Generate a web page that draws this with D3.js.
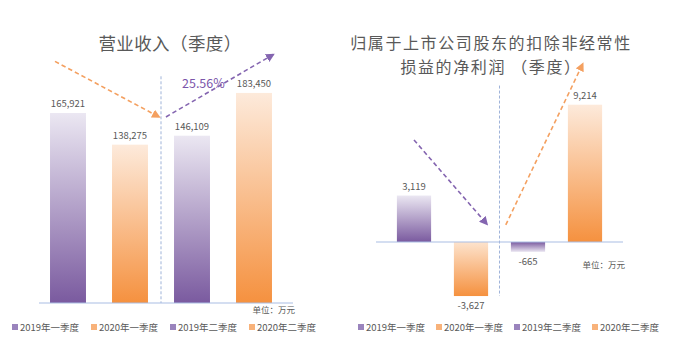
<!DOCTYPE html>
<html>
<head>
<meta charset="utf-8">
<script src="https://cdn.jsdelivr.net/npm/d3@7"></script>
<style>
  body { margin: 0; background: #fff; }
  svg text { font-family: "Noto Sans CJK SC", "Noto Sans", sans-serif; fill: #595959; }
</style>
</head>
<body>
<div id="chart"></div>
<script>
// categories shared by both panels
var quarters = ["2019年一季度", "2020年一季度", "2019年二季度", "2020年二季度"];
var groups = ["p", "o", "p", "o"];   // purple = 2019, orange = 2020

// revenue (万元)
var revenue = [165921, 138275, 146109, 183450];
// net profit after non-recurring items (万元)
var netProfit = [3119, -3627, -665, 9214];

var revenueGrowth = "25.56%";
var unitLabel = "单位：万元";

var W = 700, H = 354;

var svg = d3.select("#chart").append("svg")
    .attr("width", W)
    .attr("height", H);

var defs = svg.append("defs");

// bar gradients, light on top, strong at the bottom
function gradient(id, top, bottom) {
    var g = defs.append("linearGradient")
        .attr("id", id)
        .attr("x1", 0).attr("y1", 0).attr("x2", 0).attr("y2", 1);
    g.append("stop").attr("offset", "0%").attr("stop-color", top);
    g.append("stop").attr("offset", "100%").attr("stop-color", bottom);
}
gradient("g-p", "#ebe7f2", "#7a5a9f");
gradient("g-o", "#fdeadb", "#f5913f");
gradient("g-pn", "#7a5a9f", "#ebe7f2");
gradient("g-on", "#fde3cd", "#f5913f");

function marker(id, color) {
    defs.append("marker")
        .attr("id", id)
        .attr("viewBox", "0 0 10 10")
        .attr("refX", 8).attr("refY", 5)
        .attr("markerWidth", 5.5).attr("markerHeight", 5.5)
        .attr("orient", "auto")
        .append("path")
        .attr("d", "M0,0 L10,5 L0,10 Z")
        .attr("fill", color);
}
marker("m-o", "#f4a060");
marker("m-p", "#8465b0");

var PURPLE = "#8465b0", ORANGE = "#f4a060";
var fmt = function(d) { return d3.format(",")(d).replace("\u2212", "-"); };

/*
 * one panel: band x scale, linear y scale, bars, labels, arrows
 */
function panel(opt) {
    var g = svg.append("g");

    var x = d3.scaleBand()
        .domain(quarters)
        .range(opt.xRange)
        .paddingInner(opt.pad)
        .paddingOuter(opt.pad / 2);

    var y = d3.scaleLinear()
        .domain(opt.yDomain)
        .range(opt.yRange);

    // position in "bar steps" from the first bar's left edge
    var bx = function(t) { return x(quarters[0]) + t * x.step(); };
    var gapMid = x(quarters[1]) + x.bandwidth() + (x.step() - x.bandwidth()) / 2;

    // title, one text per line
    opt.title.forEach(function(line, i) {
        g.append("text")
            .attr("x", opt.titleX)
            .attr("y", opt.titleY + i * opt.titleGap)
            .attr("text-anchor", "middle")
            .style("font-size", opt.titleSize)
            .style("letter-spacing", opt.titleSpacing)
            .text(line);
    });

    // divider between quarters
    g.append("line")
        .attr("x1", gapMid).attr("x2", gapMid)
        .attr("y1", y(opt.divTop)).attr("y2", y(opt.divBottom))
        .attr("stroke", "#9fb3d9")
        .attr("stroke-width", 1)
        .attr("stroke-dasharray", "3,2");

    // bars
    g.selectAll(".bar")
        .data(opt.values)
        .enter().append("rect")
        .attr("class", "bar")
        .attr("x", function(d, i) { return x(quarters[i]); })
        .attr("width", x.bandwidth())
        .attr("y", function(d) { return y(Math.max(0, d)); })
        .attr("height", function(d) { return Math.abs(y(d) - y(0)); })
        .attr("fill", function(d, i) {
            return "url(#g-" + groups[i] + (d < 0 ? "n" : "") + ")";
        });

    // zero line
    g.append("line")
        .attr("x1", opt.axisX[0]).attr("x2", opt.axisX[1])
        .attr("y1", y(0)).attr("y2", y(0))
        .attr("stroke", "#a9bde3")
        .attr("stroke-width", 1.2);

    // value labels
    g.selectAll(".val")
        .data(opt.values)
        .enter().append("text")
        .attr("class", "val")
        .attr("x", function(d, i) { return x(quarters[i]) + x.bandwidth() / 2; })
        .attr("y", function(d) { return d >= 0 ? y(d) - 6 : y(d) + 13; })
        .attr("text-anchor", "middle")
        .style("font-size", "9.5px")
        .text(fmt);

    // trend arrows
    opt.arrows.forEach(function(a) {
        g.append("line")
            .attr("x1", bx(a.t0)).attr("y1", y(a.v0))
            .attr("x2", bx(a.t1)).attr("y2", y(a.v1))
            .attr("stroke", a.color)
            .attr("stroke-width", 1.6)
            .attr("stroke-dasharray", "4.5,3")
            .attr("marker-end", "url(#" + a.marker + ")");
    });

    // unit
    g.append("text")
        .attr("x", opt.unitPos[0])
        .attr("y", opt.unitPos[1])
        .attr("text-anchor", "end")
        .style("font-size", "8.5px")
        .text(unitLabel);

    // legend
    var leg = g.selectAll(".leg")
        .data(quarters)
        .enter().append("g")
        .attr("class", "leg")
        .attr("transform", function(d, i) {
            return "translate(" + (opt.legendX + i * opt.legendStep) + "," + 327 + ")";
        });
    leg.append("rect")
        .attr("x", 0).attr("y", -3)
        .attr("width", 6).attr("height", 6)
        .attr("fill", function(d, i) { return groups[i] === "p" ? "#9a84bd" : "#f8b27a"; });
    leg.append("text")
        .attr("x", 8)
        .attr("y", 3.5)
        .style("font-size", "9.5px")
        .text(function(d) { return d; });

    return { x: x, y: y, g: g };
}

var left = panel({
    values: revenue,
    xRange: [37, 285],
    pad: 0.42,
    yDomain: [0, 200000],
    yRange: [303, 74],
    axisX: [39, 293],
    title: ["营业收入（季度）"],
    titleX: 170, titleY: 50, titleSize: "17.5px", titleSpacing: "0.4px", titleGap: 0,
    divTop: 198000, divBottom: 0,
    arrows: [
        { t0: 0.08, v0: 211000, t1: 1.76, v1: 162500, color: ORANGE, marker: "m-o" },
        { t0: 1.87, v0: 162500, t1: 3.6, v1: 217000, color: PURPLE, marker: "m-p" }
    ],
    unitPos: [295, 313],
    legendX: 12, legendStep: 79
});

// growth label
left.g.append("text")
    .attr("x", left.x(quarters[2]) + 8)
    .attr("y", left.y(188000))
    .style("font-size", "12.5px")
    .style("fill", "#7b55aa")
    .text(revenueGrowth);

var right = panel({
    values: netProfit,
    xRange: [385.5, 613.5],
    pad: 0.4,
    yDomain: [-5000, 10000],
    yRange: [316.5, 93],
    axisX: [376, 623],
    title: ["归属于上市公司股东的扣除非经常性", "损益的净利润 （季度）"],
    titleX: 491, titleY: 49, titleSize: "16px", titleSpacing: "1.6px", titleGap: 23.5,
    divTop: 10500, divBottom: -3627,
    arrows: [
        { t0: 0.3, v0: 6850, t1: 1.58, v1: 1200, color: PURPLE, marker: "m-p" },
        { t0: 1.91, v0: 1150, t1: 3.26, v1: 11950, color: ORANGE, marker: "m-o" }
    ],
    unitPos: [625, 268],
    legendX: 358, legendStep: 78
});
</script>
</body>
</html>
